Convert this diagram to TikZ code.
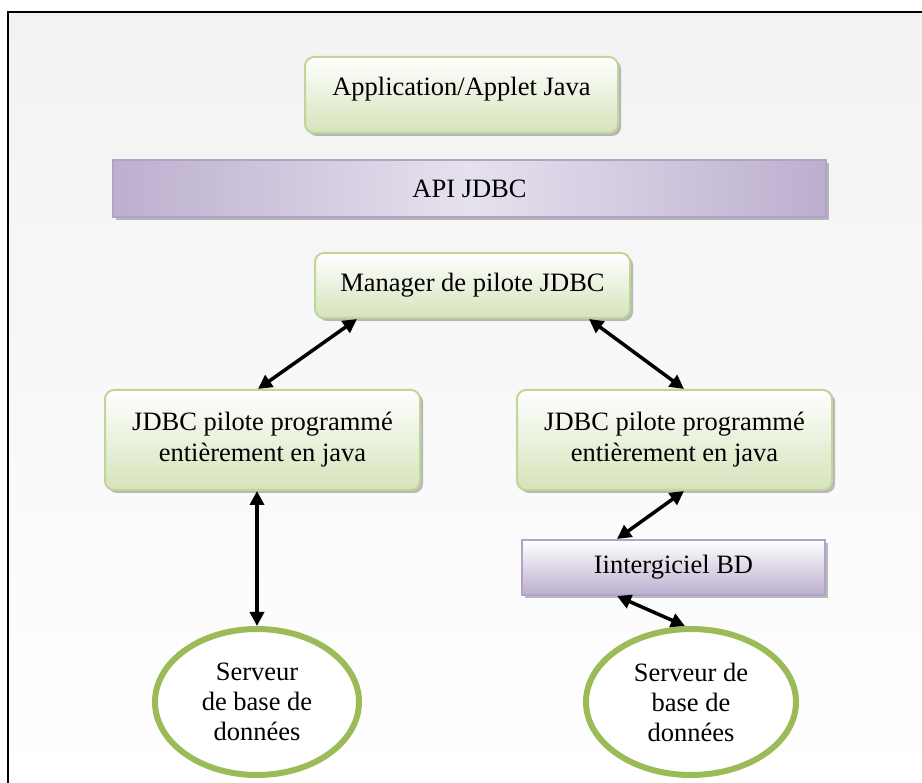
\documentclass[tikz,border=0pt]{standalone}
\usepackage{fontspec}
\setmainfont{Liberation Serif}
\newfontfamily\boxfont{Liberation Serif}
\usepackage{xcolor}
\usepackage{tikz}
\usetikzlibrary{shapes.geometric, arrows.meta, shadows}

\definecolor{greenLine}{HTML}{C0D59A}
\definecolor{greenFill}{HTML}{D5E3BA}
\definecolor{greenRing}{HTML}{9BBB59}
\definecolor{purpLine}{HTML}{B3A2C7}
\definecolor{purpDark}{HTML}{BCAFCF}
\definecolor{purpLight}{HTML}{E6E1EE}
\definecolor{bgGray}{HTML}{F2F2F2}

\begin{document}
\begin{tikzpicture}[x=1pt, y=-1pt,
    grn/.style={draw=greenLine, line width=2pt, rounded corners=9pt, top color=white, bottom color=greenFill, align=center, font=\boxfont\fontsize{26.5}{31}\selectfont, drop shadow={shadow xshift=3pt, shadow yshift=-3pt, fill=black!45, opacity=0.6}},
    prp/.style={draw=purpLine, line width=2pt, align=center, font=\boxfont\fontsize{26.5}{31}\selectfont, drop shadow={shadow xshift=3pt, shadow yshift=-3pt, fill=black!45, opacity=0.6}},
    srv/.style={ellipse, draw=greenRing, line width=6pt, fill=white, align=center, font=\boxfont\fontsize{26.5}{30}\selectfont},
    arr/.style={{Triangle[length=14pt, width=14pt]}-{Triangle[length=14pt, width=14pt]}, line width=3.5pt},
]
\useasboundingbox (0,0) rectangle (922,783);

% frame and background
\shade[top color=bgGray, bottom color=white] (8,12) rectangle (922,783);
\draw[line width=2.5pt] (8,783) -- (8,12) -- (922,12);

% layers
\node[grn, minimum width=313pt, minimum height=76pt, text height=18pt, text depth=16pt] (app) at (461.5,95) {Application/Applet Java};
\node[prp, minimum width=713pt, minimum height=57pt, left color=purpDark, right color=purpDark, middle color=purpLight] (api) at (469.5,188.5) {API JDBC};
\node[grn, minimum width=315pt, minimum height=65pt] (mgr) at (472.5,285.5) {Manager de pilote JDBC};

% pilots
\node[grn, minimum width=315pt, minimum height=100pt] (pilA) at (262.5,440) {JDBC pilote programmé\\entièrement en java};
\node[grn, minimum width=315pt, minimum height=100pt] (pilB) at (674.5,440) {JDBC pilote programmé\\entièrement en java};
\node[prp, minimum width=303pt, minimum height=55pt, top color=white, bottom color=purpDark] (mw) at (673.5,567.5) {Iintergiciel BD};

% servers
\node[srv, minimum width=204pt, minimum height=146pt] (srvA) at (257,702) {Serveur\\de base de\\données};
\node[srv, minimum width=210pt, minimum height=146pt] (srvB) at (691,702) {Serveur de\\base de\\données};

% Arrows
\draw[arr] ([xshift=43pt]mgr.south west) -- ([xshift=154pt]pilA.north west);
\draw[arr] ([xshift=-42pt]mgr.south east) -- ([xshift=168pt]pilB.north west);
\draw[arr] (pilA.south -| srvA.north) -- (srvA.north);
\draw[arr] ([xshift=168pt]pilB.south west) -- ([xshift=96pt]mw.north west);
\draw[arr] ([xshift=96pt]mw.south west) -- ([xshift=-6pt]srvB.north);

\end{tikzpicture}
\end{document}
